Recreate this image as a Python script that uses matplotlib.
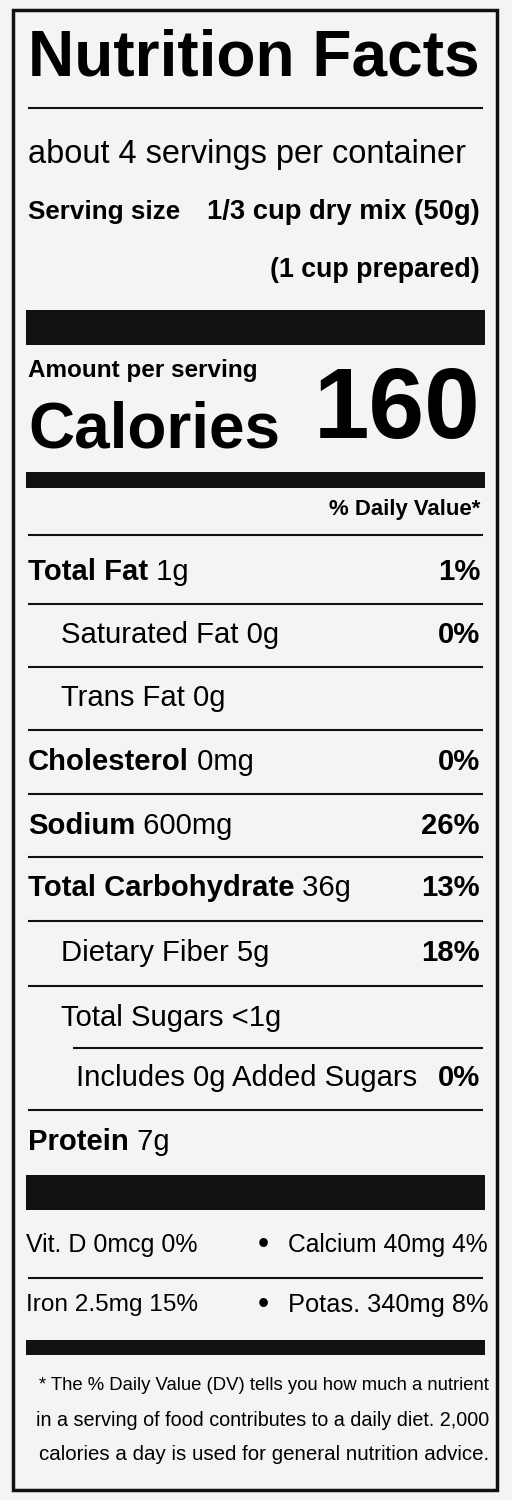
import matplotlib.pyplot as plt
from matplotlib.patches import Rectangle

plt.rcParams['font.family'] = ['Liberation Sans', 'DejaVu Sans']

title = "Nutrition Facts"
servings = "about 4 servings per container"
serving_size = "1/3 cup dry mix (50g)"
prepared = "(1 cup prepared)"
calories = "160"

rows = [  # (bold part, rest, daily value, indent level)
    ("Total Fat", " 1g", "1%", 0),
    ("", "Saturated Fat 0g", "0%", 1),
    ("", "Trans Fat 0g", "", 1),
    ("Cholesterol", " 0mg", "0%", 0),
    ("Sodium", " 600mg", "26%", 0),
    ("Total Carbohydrate", " 36g", "13%", 0),
    ("", "Dietary Fiber 5g", "18%", 1),
    ("", "Total Sugars <1g", "", 1),
    ("", "Includes 0g Added Sugars", "0%", 2),
    ("Protein", " 7g", "", 0),
]
row_y = [572, 635, 698, 762, 826, 888, 953, 1018, 1078, 1142]
vitamins = [("Vit. D 0mcg 0%", "Calcium 40mg 4%"), ("Iron 2.5mg 15%", "Potas. 340mg 8%")]
vit_y = [1245, 1305]
footnote = ["* The % Daily Value (DV) tells you how much a nutrient",
            "in a serving of food contributes to a daily diet. 2,000",
            "calories a day is used for general nutrition advice."]
foot_y = [1385, 1420, 1455]

W, H = 512, 1500
fig = plt.figure(figsize=(W / 100, H / 100), dpi=100)
fig.patch.set_facecolor('#f4f4f4')
ax = fig.add_axes([0, 0, 1, 1])
ax.set_xlim(0, W)
ax.set_ylim(H, 0)
ax.axis('off')
renderer = fig.canvas.get_renderer()


def txt(x, y, s, size, maxw=None, **kw):
    # size in px; shrink until it fits within maxw pixels
    t = ax.text(x, y, s, fontsize=size * 0.72, va='center', **kw)
    if maxw:
        w = t.get_window_extent(renderer).width
        if w > maxw:
            t.set_fontsize(size * 0.72 * maxw / w)
    return t


L, R = 28, 483
ax.add_patch(Rectangle((13, 10), 484, 1480, fill=False, lw=2.5, ec='#111'))


def hline(y, lw, x0=L):
    ax.plot([x0, R], [y, y], color='#111', lw=lw, solid_capstyle='butt')


def bar(y0, y1):
    ax.add_patch(Rectangle((L - 2, y0), R - L + 4, y1 - y0, color='#111', lw=0))


txt(L, 58, title, 82, maxw=452, fontweight='bold')
hline(108, 1.5)
txt(L, 155, servings, 40, maxw=438)
txt(L, 212, "Serving size", 36, maxw=152, fontweight='bold')
txt(R - 3, 212, serving_size, 36, maxw=272, fontweight='bold', ha='right')
txt(R - 3, 270, prepared, 36, maxw=210, fontweight='bold', ha='right')
bar(310, 345)
txt(L, 370, "Amount per serving", 28, maxw=230, fontweight='bold')
txt(L, 430, "Calories", 72, maxw=252, fontweight='bold')
txt(R - 3, 412, calories, 100, maxw=168, fontweight='bold', ha='right')
bar(472, 488)
txt(R - 3, 510, "% Daily Value*", 26, maxw=152, fontweight='bold', ha='right')
hline(535, 1.5)

indents = [0, 33, 48]
for (b, rest, dv, ind), y in zip(rows, row_y):
    x = L + indents[ind]
    fs = 34
    if b:
        t = txt(x, y, b, fs, fontweight='bold')
        t.set_fontsize(fs * 0.72 * 0.86)
        x = t.get_window_extent(renderer).x1
    t2 = txt(x, y, rest, fs)
    t2.set_fontsize(fs * 0.72 * 0.86)
    if dv:
        txt(R - 3, y, dv, fs * 0.86, fontweight='bold', ha='right')
for i, y in enumerate(row_y[:-1]):
    ny = (y + row_y[i + 1]) / 2
    hline(ny, 1.5, x0=L + 45 if i == 7 else L)
bar(1175, 1210)
for (a, b), y in zip(vitamins, vit_y):
    txt(L - 2, y, a, 32, maxw=172)
    txt(263, y, "\u2022", 32, ha='center')
    txt(R + 5, y, b, 32, maxw=200, ha='right')
hline(1278, 1.5)
bar(1340, 1355)
for s, y in zip(footnote, foot_y):
    txt(489, y, s, 26, maxw=452, ha='right')

fig.savefig('out.png', dpi=100, facecolor=fig.get_facecolor())
